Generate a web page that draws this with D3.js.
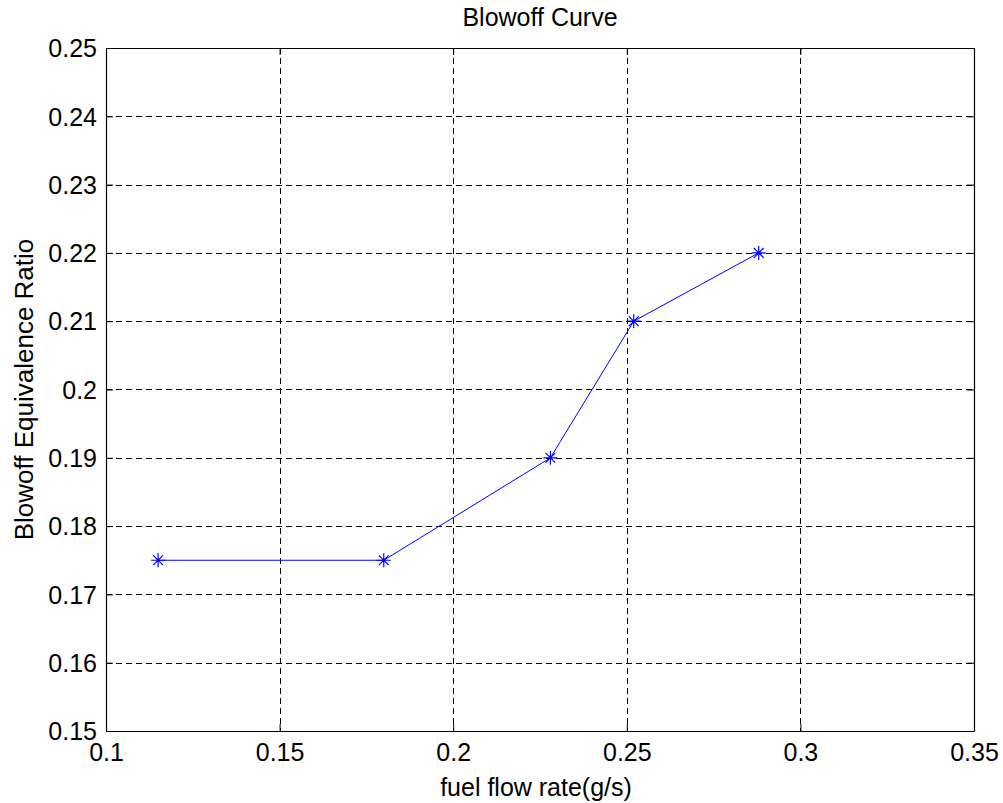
<!DOCTYPE html>
<html><head><meta charset="utf-8">
<script src="https://cdn.jsdelivr.net/npm/d3@7"></script>
<style>body{margin:0;background:#fff}svg{display:block}text{font-family:"Liberation Sans",Arial,sans-serif}</style>
</head><body><svg id="c" width="1003" height="803"></svg>
<script>
const xValues = [0.115, 0.18, 0.228, 0.252, 0.288];
const yValues = [0.175, 0.175, 0.19, 0.21, 0.22];
const xTicks = [0.1, 0.15, 0.2, 0.25, 0.3, 0.35];
const yTicks = [0.15, 0.16, 0.17, 0.18, 0.19, 0.2, 0.21, 0.22, 0.23, 0.24, 0.25];
const xTickLabels = ["0.1","0.15","0.2","0.25","0.3","0.35"];
const yTickLabels = ["0.15","0.16","0.17","0.18","0.19","0.2","0.21","0.22","0.23","0.24","0.25"];

const L=106,R=974,T=48,B=731;
const svg=d3.select("#c");
const x=d3.scaleLinear().domain([0.1,0.35]).range([L,R]);
const y=d3.scaleLinear().domain([0.15,0.25]).range([B,T]);

svg.append("rect").attr("x",L).attr("y",T).attr("width",R-L).attr("height",B-T).attr("fill","#fff");
// grid
const g=svg.append("g");
g.selectAll(".gx").data(xTicks.slice(1,-1)).join("line")
 .attr("x1",d=>Math.round(x(d))+0.5).attr("x2",d=>Math.round(x(d))+0.5).attr("y1",T).attr("y2",B)
 .attr("stroke","#000").attr("stroke-width",1).attr("stroke-dasharray","6,4");
g.selectAll(".gy").data(yTicks.slice(1,-1)).join("line")
 .attr("y1",d=>Math.round(y(d))+0.5).attr("y2",d=>Math.round(y(d))+0.5).attr("x1",L).attr("x2",R)
 .attr("stroke","#000").attr("stroke-width",1).attr("stroke-dasharray","6,4");

// axes
const xa=d3.axisBottom(x).tickValues(xTicks).tickFormat((d,i)=>xTickLabels[i]).tickSizeInner(-7).tickSizeOuter(0);
const ya=d3.axisLeft(y).tickValues(yTicks).tickFormat((d,i)=>yTickLabels[i]).tickSizeInner(-7).tickSizeOuter(0);
const gx=svg.append("g").attr("transform",`translate(0,${B})`).call(xa);
const gy=svg.append("g").attr("transform",`translate(${L},0)`).call(ya);
const xt=d3.axisTop(x).tickValues(xTicks).tickFormat("").tickSizeInner(-7).tickSizeOuter(0);
const yr=d3.axisRight(y).tickValues(yTicks).tickFormat("").tickSizeInner(-7).tickSizeOuter(0);
svg.append("g").attr("transform",`translate(0,${T})`).call(xt);
svg.append("g").attr("transform",`translate(${R},0)`).call(yr);
svg.selectAll(".domain").attr("stroke","#000").attr("stroke-width",1.2);
svg.selectAll(".tick line").attr("stroke","#000");
svg.selectAll(".tick text").attr("font-size",25).attr("fill","#000").attr("font-family","Liberation Sans, Arial, sans-serif");
gx.selectAll(".tick text").attr("y",30).attr("dy","0");
gy.selectAll(".tick text").attr("x",-9).attr("dy","0.35em");

// line
const line=d3.line().x((d,i)=>x(xValues[i])).y(d=>y(d));
svg.append("path").datum(yValues).attr("d",line).attr("fill","none").attr("stroke","#0000ff").attr("stroke-width",1);
// star markers
const s=7;
const mk=svg.append("g").selectAll("g").data(yValues).join("g")
 .attr("transform",(d,i)=>`translate(${x(xValues[i])},${y(d)})`);
mk.append("path").attr("d",`M${-s},0H${s}M0,${-s}V${s}M${-s*0.7},${-s*0.7}L${s*0.7},${s*0.7}M${-s*0.7},${s*0.7}L${s*0.7},${-s*0.7}`)
 .attr("stroke","#0000ff").attr("stroke-width",1.2).attr("fill","none");

// labels
svg.append("text").attr("x",(L+R)/2).attr("y",26).attr("text-anchor","middle").attr("font-size",25).text("Blowoff Curve");
svg.append("text").attr("x",(L+R)/2-4).attr("y",796).attr("text-anchor","middle").attr("font-size",25).text("fuel flow rate(g/s)");
svg.append("text").attr("transform",`translate(33,${(T+B)/2}) rotate(-90)`).attr("text-anchor","middle").attr("font-size",26).text("Blowoff Equivalence Ratio");
</script></body></html>
